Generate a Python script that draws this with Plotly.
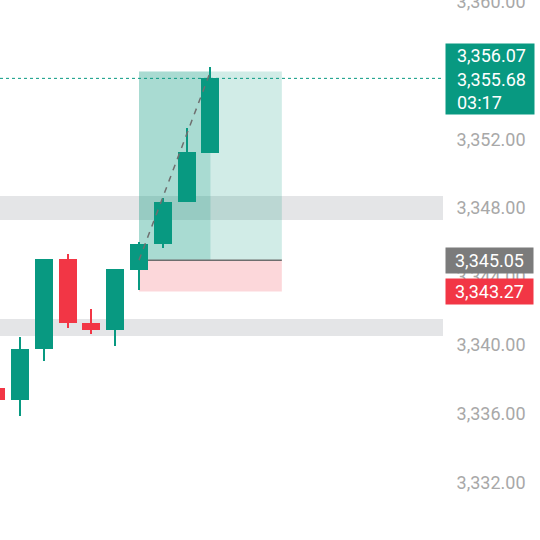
import plotly.graph_objects as go

# ---- data ----
idx   = [0, 1, 2, 3, 4, 5, 6, 7, 8, 9]
opens = [3337.49, 3336.79, 3339.77, 3345.01, 3341.28, 3340.87, 3344.37, 3345.89, 3348.34, 3351.20]
highs = [3337.80, 3340.47, 3345.01, 3345.31, 3342.10, 3344.43, 3346.01, 3348.57, 3352.65, 3356.21]
lows  = [3336.50, 3335.86, 3339.07, 3340.99, 3340.64, 3339.94, 3343.21, 3345.66, 3348.34, 3351.20]
closes= [3336.79, 3339.77, 3345.01, 3341.28, 3340.87, 3344.43, 3345.89, 3348.34, 3351.25, 3355.55]

entry_price = 3344.95
stop_price = 3343.12
target_price = 3355.95
pos_start, pos_now, pos_end = 6, 9, 12

zones = [(3347.29, 3348.69), (3340.52, 3341.52)]

tick_vals = [3332, 3336, 3340, 3344, 3348, 3352, 3356, 3360]
label_target = "3,356.07"
label_last = "3,355.68"
label_timer = "03:17"
label_entry = "3,345.05"
label_stop = "3,343.27"

UP = "#089981"
DOWN = "#F23645"

up_col = [UP if c >= o else DOWN for o, c in zip(opens, closes)]

fig = go.Figure()

# dashed path from entry to target
fig.add_trace(go.Scatter(x=[pos_start, pos_now], y=[entry_price, target_price], mode="lines",
                         line=dict(color="#6f6f6f", width=1.5, dash="6px,6px"),
                         hoverinfo="skip", showlegend=False))

# wicks
fig.add_trace(go.Bar(x=idx, y=[h - l for h, l in zip(highs, lows)], base=lows, width=0.085,
                     marker=dict(color=up_col, line=dict(width=0)), hoverinfo="skip", showlegend=False))
# bodies
fig.add_trace(go.Bar(x=idx, y=[c - o if abs(c - o) > 0.05 else 0.1 for o, c in zip(opens, closes)],
                     base=opens, width=0.76,
                     marker=dict(color=up_col, line=dict(width=0)), hoverinfo="skip", showlegend=False))

shapes = []
# position box
shapes.append(dict(type="rect", xref="x", yref="y", x0=pos_start, x1=pos_end, y0=entry_price, y1=target_price,
                   fillcolor="rgba(8,153,129,0.19)", line=dict(width=0), layer="below"))
shapes.append(dict(type="rect", xref="x", yref="y", x0=pos_start, x1=pos_now, y0=entry_price, y1=target_price,
                   fillcolor="rgba(8,153,129,0.2)", line=dict(width=0), layer="below"))
shapes.append(dict(type="rect", xref="x", yref="y", x0=pos_start, x1=pos_end, y0=stop_price, y1=entry_price,
                   fillcolor="rgba(242,54,69,0.2)", line=dict(width=0), layer="below"))
# zones
for lo, hi in zones:
    shapes.append(dict(type="rect", xref="paper", yref="y", x0=0, x1=1, y0=lo, y1=hi,
                       fillcolor="rgba(120,123,134,0.2)", line=dict(width=0), layer="below"))
# entry line
shapes.append(dict(type="line", xref="x", yref="y", x0=pos_start, x1=pos_end, y0=entry_price, y1=entry_price,
                   line=dict(color="#6e6e6e", width=1.5), layer="below"))
# last price line
shapes.append(dict(type="line", xref="paper", yref="y", x0=0, x1=1, y0=closes[-1], y1=closes[-1],
                   line=dict(color=UP, width=1, dash="dot"), layer="above"))

pad = "\u00a0\u00a0"
annotations = [
    dict(xref="paper", yref="y", x=1, y=closes[-1], xanchor="left", yanchor="middle", xshift=2, yshift=-1,
         text=pad + label_target + "<br>" + pad + label_last + "<br>" + pad + label_timer,
         showarrow=False, align="left",
         bgcolor=UP, width=84, height=66, borderpad=2,
         font=dict(family="Roboto", size=18, color="white")),
    dict(xref="paper", yref="y", x=1, y=entry_price, xanchor="left", yanchor="middle", xshift=2,
         text=label_entry, showarrow=False, align="center", bgcolor="#7b7b7b", width=85, height=23, borderpad=1,
         font=dict(family="Roboto", size=18, color="white")),
    dict(xref="paper", yref="y", x=1, y=stop_price, xanchor="left", yanchor="middle", xshift=2,
         text=label_stop, showarrow=False, align="center", bgcolor=DOWN, width=85, height=23, borderpad=1,
         font=dict(family="Roboto", size=18, color="white")),
]

fig.update_layout(
    width=540, height=540,
    margin=dict(l=0, r=97, t=0, b=0, autoexpand=False),
    paper_bgcolor="white", plot_bgcolor="white",
    barmode="overlay", bargap=0,
    showlegend=False,
    shapes=shapes, annotations=annotations,
    xaxis=dict(range=[0.16, 18.77], visible=False, fixedrange=True),
    yaxis=dict(range=[3328.63, 3360.12], side="right", showgrid=False, zeroline=False, showline=False,
               tickvals=tick_vals, tickformat=",.2f", ticks="outside", ticklen=9, tickcolor="rgba(0,0,0,0)",
               ticklabeloverflow="allow", automargin=False,
               tickfont=dict(family="Roboto", size=18, color="#a8a8a8"), fixedrange=True),
)

fig.write_html("out.html", config={"displayModeBar": False},
               post_script="document.body.style.margin='0';document.body.style.overflow='hidden';")
